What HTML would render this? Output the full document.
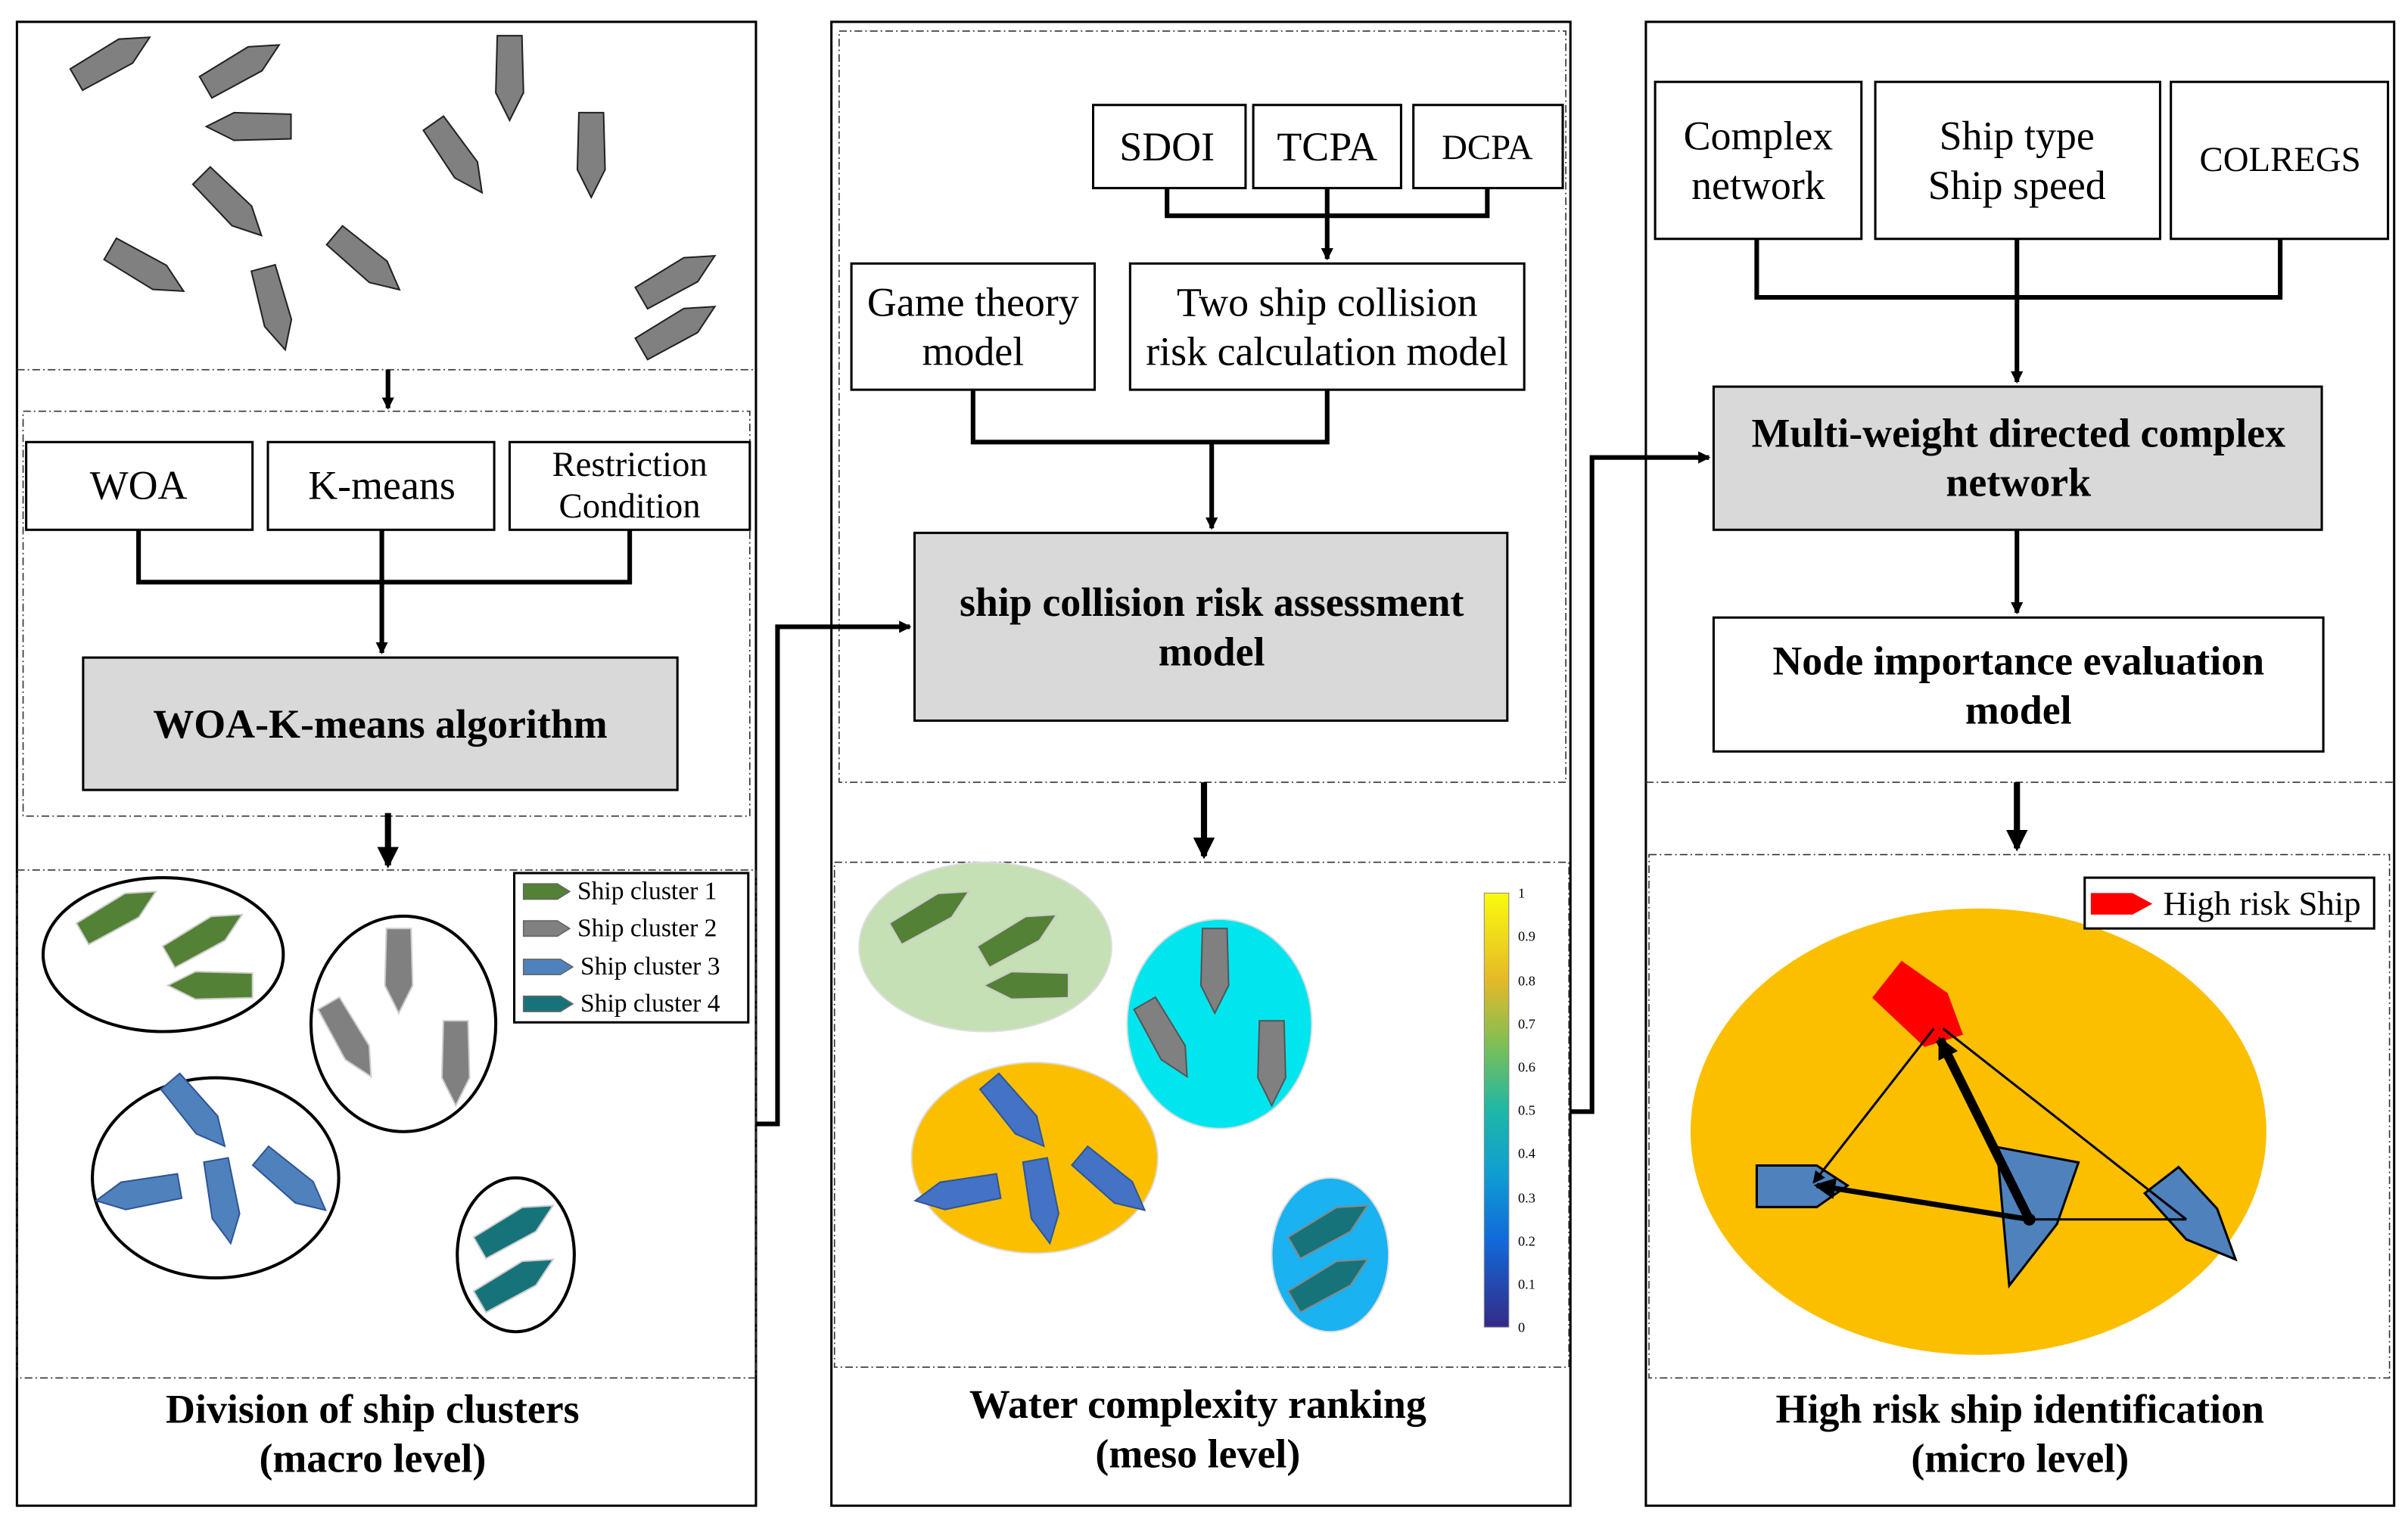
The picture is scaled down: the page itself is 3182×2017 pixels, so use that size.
<!DOCTYPE html>
<html><head><meta charset="utf-8"><style>
html,body{margin:0;padding:0;background:#fff}
svg{display:block}
text{font-family:"Liberation Serif",serif;fill:#000}
</style></head><body>
<svg width="3182" height="2017" viewBox="0 0 1564 991" xmlns="http://www.w3.org/2000/svg">
<defs>
<path id="sh" d="M0,-28 L9,-10 L8,27 L-8,27 L-9,-10 Z"/>
<marker id="ar" markerWidth="8" markerHeight="8" refX="7" refY="4" orient="auto" markerUnits="userSpaceOnUse"><path d="M0,0 L8,4 L0,8 Z" fill="#000"/></marker>
<marker id="arb" markerWidth="14" markerHeight="14" refX="12" refY="7" orient="auto" markerUnits="userSpaceOnUse"><path d="M0,0 L14,7 L0,14 Z" fill="#000"/></marker>
<linearGradient id="par" x1="0" y1="1" x2="0" y2="0">
<stop offset="0" stop-color="#352a87"/><stop offset="0.2" stop-color="#1269d9"/><stop offset="0.35" stop-color="#0f9dd3"/><stop offset="0.5" stop-color="#1fb7a6"/><stop offset="0.65" stop-color="#7dbf55"/><stop offset="0.8" stop-color="#e5b928"/><stop offset="1" stop-color="#f9fb0e"/>
</linearGradient>
</defs>
<g fill="none" stroke="#000">
<rect x="11" y="14" width="480" height="964" stroke-width="1.5"/>
<rect x="540" y="14" width="480" height="964" stroke-width="1.5"/>
<rect x="1069" y="14" width="486" height="964" stroke-width="1.5"/>
<g stroke-dasharray="5,2,1,2" stroke-width="0.8" stroke="#333">
<line x1="11" y1="240" x2="491" y2="240"/>
<rect x="15" y="267" width="472" height="263"/>
<rect x="11" y="565" width="480" height="330"/>
<rect x="545" y="20" width="472" height="488"/>
<rect x="542" y="560" width="477" height="328"/>
<line x1="1069" y1="508" x2="1555" y2="508"/>
<rect x="1071" y="555" width="481" height="340"/>
</g>
</g>
<g fill="#808080" stroke="#222" stroke-width="1">
<use href="#sh" transform="translate(73,38) rotate(60)"/>
<use href="#sh" transform="translate(157,43) rotate(60)"/>
<use href="#sh" transform="translate(162,82) rotate(-90)"/>
<use href="#sh" transform="translate(331,50) rotate(180)"/>
<use href="#sh" transform="translate(297,102) rotate(145)"/>
<use href="#sh" transform="translate(384,100) rotate(180)"/>
<use href="#sh" transform="translate(150,133) rotate(135)"/>
<use href="#sh" transform="translate(95,175) rotate(120)"/>
<use href="#sh" transform="translate(178,200) rotate(165)"/>
<use href="#sh" transform="translate(238,170) rotate(130)"/>
<use href="#sh" transform="translate(440,180) rotate(60)"/>
<use href="#sh" transform="translate(440,213) rotate(60)"/>
</g>
<g fill="#fff" stroke="#000" stroke-width="1.5">
<rect x="17" y="287" width="147" height="57"/>
<rect x="174" y="287" width="147" height="57"/>
<rect x="331" y="287" width="156" height="57"/>
<rect x="54" y="427" width="386" height="86" fill="#d9d9d9"/>
</g>
<g font-size="26.5" text-anchor="middle">
<text x="90" y="324">WOA</text>
<text x="248" y="324">K-means</text>
<text x="409" y="309" font-size="23">Restriction</text>
<text x="409" y="336" font-size="23">Condition</text>
<text x="247" y="479" font-weight="bold">WOA-K-means algorithm</text>
</g>
<g stroke="#000" fill="none" stroke-width="3">
<polyline points="90,344 90,378 409,378 409,344"/>
<line x1="248" y1="344" x2="248" y2="424" marker-end="url(#ar)"/>
<line x1="252" y1="240" x2="252" y2="265" marker-end="url(#ar)"/>
<line x1="252" y1="528" x2="252" y2="562" stroke-width="4" marker-end="url(#arb)"/>
</g>
<g fill="#fff" stroke="#000" stroke-width="2">
<ellipse cx="106" cy="620" rx="78" ry="50"/>
<ellipse cx="262" cy="665" rx="60" ry="70"/>
<ellipse cx="140" cy="765" rx="80" ry="65"/>
<ellipse cx="335" cy="815" rx="38" ry="50"/>
</g>
<g stroke="#ccc" stroke-width="1">
<g fill="#538135"><use href="#sh" transform="translate(77,593) rotate(60)"/><use href="#sh" transform="translate(133,608) rotate(60)"/><use href="#sh" transform="translate(137,640) rotate(-90)"/></g>
<g fill="#808080"><use href="#sh" transform="translate(259,630) rotate(180)"/><use href="#sh" transform="translate(227,675) rotate(150)"/><use href="#sh" transform="translate(296,690) rotate(180)"/></g>
<g fill="#4f81bd" stroke="#2f5597"><use href="#sh" transform="translate(128,723) rotate(140)"/><use href="#sh" transform="translate(90,775) rotate(-100)"/><use href="#sh" transform="translate(145,780) rotate(170)"/><use href="#sh" transform="translate(190,768) rotate(130)"/></g>
<g fill="#17737a"><use href="#sh" transform="translate(335,797) rotate(60)"/><use href="#sh" transform="translate(335,832) rotate(60)"/></g>
</g>
<rect x="334" y="567" width="152" height="97" fill="#fff" stroke="#000" stroke-width="1.5"/>
<g stroke="#666" stroke-width="0.8">
<path d="M340,574 L362,574 L370,579 L362,584 L340,584 Z" fill="#538135"/>
<path d="M340,598 L362,598 L370,603 L362,608 L340,608 Z" fill="#808080"/>
<path d="M340,623 L364,623 L372,628 L364,633 L340,633 Z" fill="#4f81bd"/>
<path d="M340,647 L364,647 L372,652 L364,657 L340,657 Z" fill="#17737a"/>
</g>
<g font-size="16.5"><text x="375" y="584">Ship cluster 1</text><text x="375" y="608">Ship cluster 2</text><text x="377" y="633">Ship cluster 3</text><text x="377" y="657">Ship cluster 4</text></g>
<g font-size="26.5" font-weight="bold" text-anchor="middle">
<text x="242" y="924">Division of ship clusters</text><text x="242" y="956">(macro level)</text>
<text x="778" y="921">Water complexity ranking</text><text x="778" y="953">(meso level)</text>
<text x="1312" y="924">High risk ship identification</text><text x="1312" y="956">(micro level)</text>
</g>
<g fill="#fff" stroke="#000" stroke-width="1.5">
<rect x="710" y="68" width="99" height="54"/><rect x="814" y="68" width="96" height="54"/><rect x="918" y="68" width="97" height="54"/>
<rect x="553" y="171" width="158" height="82"/><rect x="734" y="171" width="256" height="82"/>
<rect x="594" y="346" width="385" height="122" fill="#d9d9d9"/>
</g>
<g font-size="26.5" text-anchor="middle">
<text x="758" y="104">SDOI</text><text x="862" y="104">TCPA</text><text x="966" y="103" font-size="23">DCPA</text>
<text x="632" y="205">Game theory</text><text x="632" y="237">model</text>
<text x="862" y="205">Two ship collision</text><text x="862" y="237">risk calculation model</text>
<text x="787" y="400" font-weight="bold">ship collision risk assessment</text><text x="787" y="432" font-weight="bold">model</text>
</g>
<g stroke="#000" fill="none" stroke-width="3">
<polyline points="758,122 758,140 966,140 966,122"/>
<line x1="862" y1="122" x2="862" y2="168" marker-end="url(#ar)"/>
<polyline points="632,253 632,287 862,287 862,253"/>
<line x1="787" y1="287" x2="787" y2="343" marker-end="url(#ar)"/>
<line x1="782" y1="508" x2="782" y2="556" stroke-width="4" marker-end="url(#arb)"/>
<polyline points="491,730 505,730 505,407 591,407" marker-end="url(#ar)"/>
<polyline points="1020,722 1034,722 1034,297 1110,297" marker-end="url(#ar)"/>
</g>
<g stroke="#ddd" stroke-width="1">
<ellipse cx="640" cy="615" rx="82" ry="55" fill="#c5e0b4"/>
<ellipse cx="792" cy="665" rx="60" ry="68" fill="#00e5ee"/>
<ellipse cx="672" cy="752" rx="80" ry="62" fill="#fbbf00"/>
<ellipse cx="864" cy="815" rx="38" ry="50" fill="#1ab2f0"/>
</g>
<g stroke="#ccc" stroke-width="1">
<g fill="#538135"><use href="#sh" transform="translate(605,593) rotate(60)"/><use href="#sh" transform="translate(662,608) rotate(60)"/><use href="#sh" transform="translate(667,640) rotate(-90)"/></g>
<g fill="#808080" stroke="#555"><use href="#sh" transform="translate(789,630) rotate(180)"/><use href="#sh" transform="translate(757,675) rotate(150)"/><use href="#sh" transform="translate(826,690) rotate(180)"/></g>
<g fill="#4472c4" stroke="#2f5597"><use href="#sh" transform="translate(660,723) rotate(140)"/><use href="#sh" transform="translate(622,775) rotate(-100)"/><use href="#sh" transform="translate(677,780) rotate(170)"/><use href="#sh" transform="translate(722,768) rotate(130)"/></g>
<g fill="#17737a" stroke="#888"><use href="#sh" transform="translate(864,797) rotate(60)"/><use href="#sh" transform="translate(864,832) rotate(60)"/></g>
</g>
<rect x="964" y="580" width="16" height="282" fill="url(#par)" stroke="#888" stroke-width="0.5"/>
<g font-size="9" font-family="Liberation Sans,sans-serif">
<text x="986" y="583">1</text><text x="986" y="611">0.9</text><text x="986" y="640">0.8</text><text x="986" y="668">0.7</text><text x="986" y="696">0.6</text><text x="986" y="724">0.5</text><text x="986" y="752">0.4</text><text x="986" y="781">0.3</text><text x="986" y="809">0.2</text><text x="986" y="837">0.1</text><text x="986" y="865">0</text>
</g>
<g fill="#fff" stroke="#000" stroke-width="1.5">
<rect x="1075" y="53" width="134" height="102"/><rect x="1218" y="53" width="185" height="102"/><rect x="1410" y="53" width="141" height="102"/>
<rect x="1113" y="251" width="395" height="93" fill="#d9d9d9"/>
<rect x="1113" y="401" width="396" height="87"/>
</g>
<g font-size="26.5" text-anchor="middle">
<text x="1142" y="97">Complex</text><text x="1142" y="129">network</text>
<text x="1310" y="97">Ship type</text><text x="1310" y="129">Ship speed</text>
<text x="1481" y="111" font-size="23">COLREGS</text>
<text x="1311" y="290" font-weight="bold">Multi-weight directed complex</text><text x="1311" y="322" font-weight="bold">network</text>
<text x="1311" y="438" font-weight="bold">Node  importance evaluation</text><text x="1311" y="470" font-weight="bold">model</text>
</g>
<g stroke="#000" fill="none" stroke-width="3">
<polyline points="1141,155 1141,193 1481,193 1481,155"/>
<line x1="1310" y1="155" x2="1310" y2="248" marker-end="url(#ar)"/>
<line x1="1310" y1="344" x2="1310" y2="398" marker-end="url(#ar)"/>
<line x1="1310" y1="508" x2="1310" y2="551" stroke-width="4" marker-end="url(#arb)"/>
</g>
<ellipse cx="1285" cy="735" rx="187" ry="145" fill="#fbbf00"/>
<path d="M1216,648 L1235,624 L1265,645 L1275,672 L1250,680 Z" fill="#ff0000"/>
<g fill="#4f81bd" stroke="#000" stroke-width="1.5">
<path d="M1141,757 L1180,757 L1200,770 L1180,784 L1141,784 Z"/>
<path d="M1297,745 L1350,755 L1336,795 L1305,835 Z"/>
<path d="M1393,775 L1415,758 L1440,785 L1452,818 L1420,805 Z"/>
</g>
<g stroke="#000" fill="none">
<line x1="1256" y1="668" x2="1178" y2="768" stroke-width="1.5" marker-end="url(#ar)"/>
<line x1="1262" y1="668" x2="1420" y2="792" stroke-width="1.5"/>
<line x1="1420" y1="792" x2="1318" y2="792" stroke-width="1.5"/>
<line x1="1318" y1="792" x2="1260" y2="675" stroke-width="6" marker-end="url(#arb)"/>
<line x1="1318" y1="792" x2="1180" y2="770" stroke-width="3.5" marker-end="url(#arb)"/>
</g>
<circle cx="1318" cy="792" r="4" fill="#000"/>
<rect x="1354" y="570" width="188" height="33" fill="#fff" stroke="#000" stroke-width="1.5"/>
<path d="M1358,580 L1385,580 L1398,587 L1385,594 L1358,594 Z" fill="#ff0000"/>
<text x="1405" y="594" font-size="22">High risk Ship</text>
</svg>
</body></html>
